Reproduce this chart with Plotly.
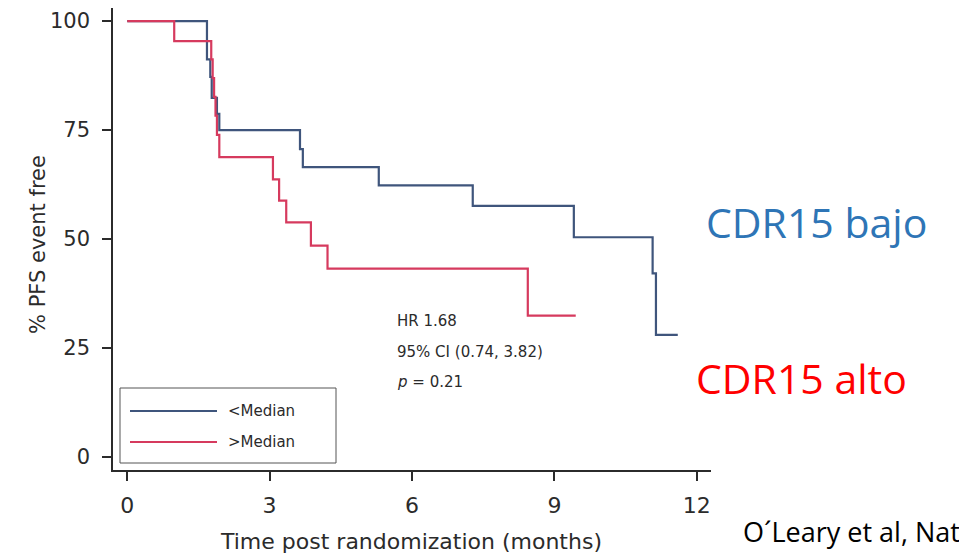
import plotly.graph_objects as go

# ---- data ----
low_time = [0, 1.68, 1.75, 1.78, 1.89, 1.94, 3.64, 3.70, 5.30, 7.28, 9.41, 11.07, 11.14, 11.60]
low_surv = [100, 91.2, 87.2, 82.4, 78.7, 75.0, 70.6, 66.5, 62.3, 57.6, 50.4, 42.1, 28.0, 28.0]

high_time = [0, 0.99, 1.77, 1.80, 1.83, 1.86, 1.89, 1.94, 3.07, 3.20, 3.35, 3.87, 4.22, 8.44, 9.45]
high_surv = [100, 95.4, 91.2, 86.9, 82.6, 78.3, 73.9, 68.8, 63.7, 58.8, 53.8, 48.5, 43.2, 32.4, 32.4]

x_ticks = [0, 3, 6, 9, 12]
y_ticks = [0, 25, 50, 75, 100]
legend_labels = ["<Median", ">Median"]
stats_lines = ["HR 1.68", "95% CI (0.74, 3.82)", "<i>p</i> = 0.21"]

BLUE = "#3f557c"
RED = "#d63a5e"
AX = "#2b2b2b"
FONT = "DejaVu Sans"

W, H = 959, 555
L, R, T, B = 113, 711, 8, 470


def px(xp):
    return (xp - L) / (R - L)


def py(yp):
    return (B - yp) / (B - T)


fig = go.Figure()
fig.add_trace(go.Scatter(x=low_time, y=low_surv, mode="lines", line=dict(color=BLUE, width=2.2, shape="hv"),
                         name=legend_labels[0], showlegend=False, hoverinfo="skip"))
fig.add_trace(go.Scatter(x=high_time, y=high_surv, mode="lines", line=dict(color=RED, width=2.2, shape="hv"),
                         name=legend_labels[1], showlegend=False, hoverinfo="skip"))

shapes = []
annotations = []

# legend box (drawn by hand to match the long line samples)
shapes.append(dict(type="rect", xref="paper", yref="paper", x0=px(120), x1=px(336), y0=py(463), y1=py(388),
                   line=dict(color="#555555", width=1), fillcolor="rgba(0,0,0,0)", layer="above"))
for i, (lab, col) in enumerate(zip(legend_labels, [BLUE, RED])):
    yy = 411 + i * 31
    shapes.append(dict(type="line", xref="paper", yref="paper", x0=px(130), x1=px(217), y0=py(yy), y1=py(yy),
                       line=dict(color=col, width=2.2)))
    annotations.append(dict(xref="paper", yref="paper", x=px(226), y=py(yy), text=lab, showarrow=False,
                            xanchor="left", yanchor="middle", font=dict(family=FONT, size=15, color=AX)))

# stats text
for i, s in enumerate(stats_lines):
    annotations.append(dict(xref="paper", yref="paper", x=px(395), y=py(321 + i * 30.5), text=s, showarrow=False,
                            xanchor="left", yanchor="middle", font=dict(family=FONT, size=15, color=AX)))

# axis titles
annotations.append(dict(xref="paper", yref="paper", x=px(38), y=py(245), text="% PFS event free", showarrow=False,
                        textangle=-90, xanchor="center", yanchor="middle",
                        font=dict(family=FONT, size=21, color=AX)))
annotations.append(dict(xref="paper", yref="paper", x=px(411), y=py(541), text="Time post randomization (months)",
                        showarrow=False, xanchor="center", yanchor="middle",
                        font=dict(family=FONT, size=22, color=AX)))

# slide texts
annotations.append(dict(xref="paper", yref="paper", x=px(704), y=py(222), text="CDR15 bajo", showarrow=False,
                        xanchor="left", yanchor="middle", font=dict(family="Open Sans", size=41, color="#2e75b6")))
annotations.append(dict(xref="paper", yref="paper", x=px(694), y=py(378), text="CDR15 alto", showarrow=False,
                        xanchor="left", yanchor="middle", font=dict(family="Open Sans", size=41, color="#ff0000")))
annotations.append(dict(xref="paper", yref="paper", x=px(741), y=py(531), text="O´Leary et al, Nat", showarrow=False,
                        xanchor="left", yanchor="middle", font=dict(family="Open Sans", size=27, color="#000000")))

fig.update_layout(
    width=W, height=H,
    margin=dict(l=L, r=W - R, t=T, b=H - B, pad=0),
    paper_bgcolor="white", plot_bgcolor="white",
    shapes=shapes, annotations=annotations,
    font=dict(family=FONT, color=AX),
    xaxis=dict(range=[-0.3, 12.3], tickvals=x_ticks, ticktext=[str(v) for v in x_ticks], automargin=False,
               showline=True, linecolor=AX, linewidth=1.5, ticks="outside", ticklen=9, tickwidth=1.5,
               tickcolor=AX, showgrid=False, zeroline=False, tickfont=dict(family=FONT, size=22, color=AX),
               ticklabelstandoff=6),
    yaxis=dict(range=[-3, 103], tickvals=y_ticks, ticktext=[str(v) for v in y_ticks], automargin=False,
               showline=True, linecolor=AX, linewidth=1.5, ticks="outside", ticklen=9, tickwidth=1.5,
               tickcolor=AX, showgrid=False, zeroline=False, tickfont=dict(family=FONT, size=21, color=AX),
               ticklabelstandoff=8),
)

fig.write_html("out.html")
